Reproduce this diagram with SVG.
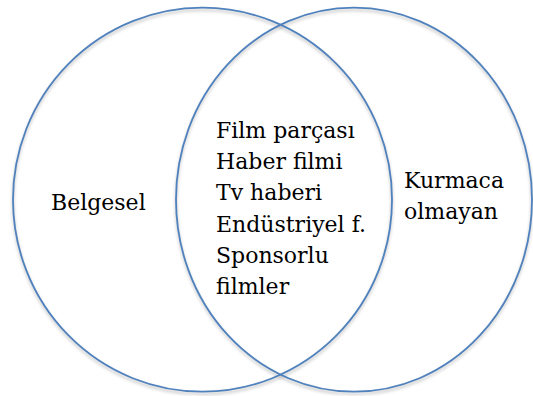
<svg xmlns="http://www.w3.org/2000/svg" width="533" height="396" viewBox="0 0 533 396">
<style>
.c{fill:none;stroke:#4F81BD;stroke-width:1.8}
.s{fill:none;stroke:#000;stroke-opacity:0.18;stroke-width:2.5}
.t{font-family:"DejaVu Serif","Liberation Serif",serif;font-size:22px;fill:#000}
</style>
<defs>
<filter id="blur" x="-10%" y="-10%" width="120%" height="120%"><feGaussianBlur stdDeviation="1.5"/></filter>
</defs>
<rect width="533" height="396" fill="#fff"/>
<g id="shadows" filter="url(#blur)">
<ellipse class="s" cx="202.5" cy="202" rx="189.5" ry="192"/>
<ellipse class="s" cx="354" cy="202" rx="178" ry="192"/>
</g>
<g id="left">
<ellipse class="c" cx="202.5" cy="199.7" rx="189.5" ry="192"/>
<text class="t" x="51" y="210">Belgesel</text>
</g>
<g id="right">
<ellipse class="c" cx="354" cy="199.7" rx="178" ry="192"/>
<text class="t" x="404" y="187.5">Kurmaca</text>
<text class="t" x="404" y="218.5">olmayan</text>
</g>
<g id="overlap">
<text class="t" x="216" y="137.7">Film parçası</text>
<text class="t" x="216" y="169">Haber filmi</text>
<text class="t" x="216" y="200.3">Tv haberi</text>
<text class="t" x="216" y="231.6">Endüstriyel f.</text>
<text class="t" x="216" y="262.9">Sponsorlu</text>
<text class="t" x="216" y="294.2">filmler</text>
</g>
<g id="connectors"/>
</svg>
